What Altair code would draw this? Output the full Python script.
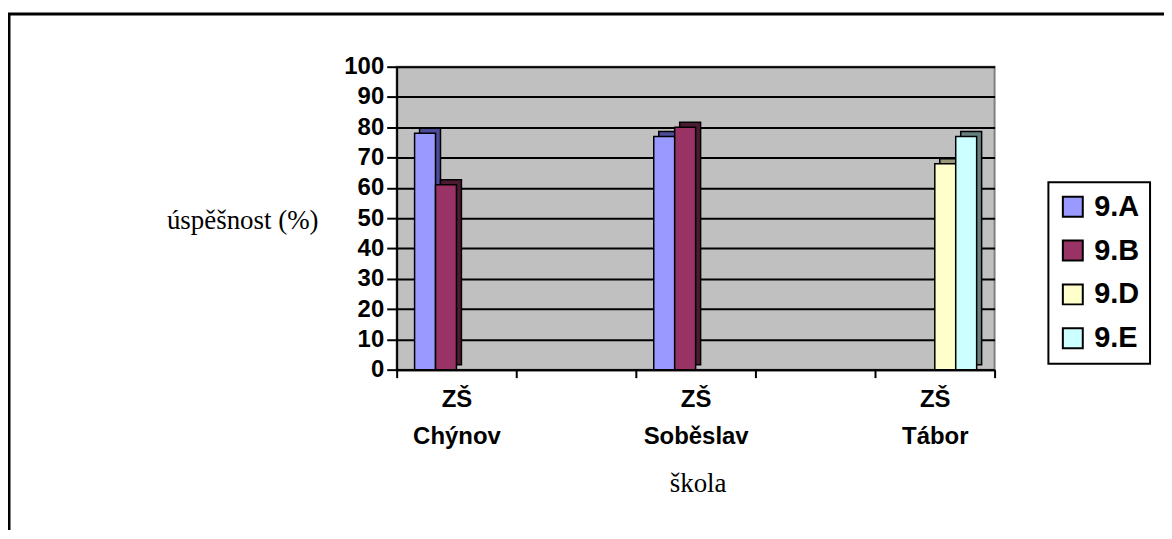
import altair as alt
import pandas as pd

# ---- data ----
schools = ["ZŠ Chýnov", "ZŠ Soběslav", "ZŠ Tábor"]
x_domain = ["ZŠ Chýnov", " ", "ZŠ Soběslav", "  ", "ZŠ Tábor"]
classes = ["9.A", "9.B", "9.D", "9.E"]
val_9A = [78, 77, None]
val_9B = [61, 80, None]
val_9D = [None, None, 68]
val_9E = [None, None, 77]
colors = ["#9999FF", "#993366", "#FFFFCC", "#CCFFFF"]
side_colors = ["#4C4C99", "#4D1A33", "#99997A", "#668080"]

rows = []
for cls, vals in zip(classes, [val_9A, val_9B, val_9D, val_9E]):
    for s, v in zip(schools, vals):
        if v is not None:
            rows.append({"škola": s, "třída": cls, "úspěšnost": v})
df = pd.DataFrame(rows)

x_enc = alt.X(
    "škola:N",
    scale=alt.Scale(domain=x_domain, paddingInner=0, paddingOuter=0),
    axis=alt.Axis(
        title="škola",
        titleFont="Liberation Serif",
        titleFontSize=27,
        titleFontWeight="normal",
        titleColor="black",
        titleX=302,
        titleY=122,
        titleAlign="center",
        titleBaseline="alphabetic",
        labelExpr="split(datum.label, ' ')",
        labelFont="Liberation Sans",
        labelFontSize=24,
        labelFontWeight="bold",
        labelColor="black",
        labelAngle=0,
        labelPadding=10,
        labelLineHeight=37,
        tickBand="extent",
        tickSize=8,
        tickWidth=2,
        tickColor="black",
        domainColor="black",
        domainWidth=2,
        grid=False,
    ),
)
xoff_main = alt.XOffset(
    "třída:N", scale=alt.Scale(domain=classes, paddingInner=0, paddingOuter=0.857)
)
xoff_side = alt.XOffset(
    "třída:N",
    scale=alt.Scale(domain=classes, range=[5, 125], paddingInner=0, paddingOuter=0.857),
)
y_enc = alt.Y(
    "úspěšnost:Q",
    scale=alt.Scale(domain=[0, 100], nice=False),
    axis=alt.Axis(
        title="úspěšnost (%)",
        titleAngle=0,
        titleFont="Liberation Serif",
        titleFontSize=27,
        titleFontWeight="normal",
        titleColor="black",
        titleX=-155,
        titleY=162,
        titleAlign="center",
        titleBaseline="alphabetic",
        values=list(range(0, 101, 10)),
        labelFont="Liberation Sans",
        labelFontSize=24,
        labelFontWeight="bold",
        labelColor="black",
        labelPadding=3,
        tickSize=10,
        tickWidth=2,
        tickColor="black",
        domainColor="black",
        domainWidth=2,
        grid=True,
        gridColor="black",
        gridWidth=2,
    ),
)

shadow = alt.Chart(df).mark_bar(
    yOffset=-5, y2Offset=-5, stroke="black", strokeWidth=1.5
).encode(
    x=x_enc,
    xOffset=xoff_side,
    y=y_enc,
    color=alt.Color("třída:N", scale=alt.Scale(domain=classes, range=side_colors), legend=None),
)

bars = alt.Chart(df).mark_bar(stroke="black", strokeWidth=1.5).encode(
    x=x_enc,
    xOffset=xoff_main,
    y=y_enc,
    fill=alt.Fill(
        "třída:N",
        scale=alt.Scale(domain=classes, range=colors),
        legend=alt.Legend(
            title=None,
            orient="none",
            legendX=654,
            legendY=116,
            labelFont="Liberation Sans",
            labelFontSize=29,
            labelFontWeight="bold",
            labelColor="black",
            labelOffset=7,
            symbolType="square",
            symbolSize=400,
            symbolStrokeColor="black",
            symbolStrokeWidth=2,
            padding=10,
            rowPadding=14,
            strokeColor="black",
            fillColor="white",
        ),
    ),
)

frame = alt.Chart(pd.DataFrame({"k": [0]})).mark_rect(
    fill=None, stroke="black", strokeWidth=3
).encode(
    x=alt.value(-389), x2=alt.value(900), y=alt.value(-53), y2=alt.value(600)
)

chart = (
    alt.layer(frame, shadow, bars)
    .resolve_scale(color="independent", xOffset="independent")
    .properties(
        width=600,
        height=304,
        autosize=alt.AutoSizeParams(type="none"),
        padding={"left": 390, "top": 58, "right": 170, "bottom": 160},
        background="white",
    )
    .configure_view(fill="#C0C0C0", stroke="#808080", strokeWidth=2)
    .configure_legend(strokeWidth=2)
)

chart.save("out.html", embed_options={"renderer": "svg", "actions": False})
